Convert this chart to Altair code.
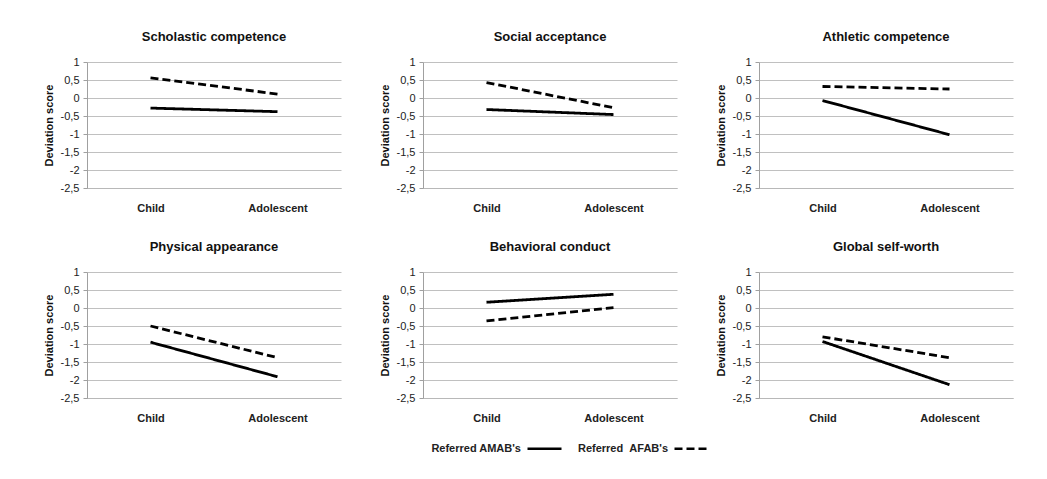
import altair as alt
import pandas as pd

domains = ["Scholastic competence", "Social acceptance", "Athletic competence",
           "Physical appearance", "Behavioral conduct", "Global self-worth"]
ages = ["Child", "Adolescent"]
groups = ["Referred AMAB's", "Referred\u00a0\u00a0AFAB's"]

amab_child = [-0.28, -0.32, -0.07, -0.95, 0.16, -0.93]
amab_adol = [-0.38, -0.46, -1.02, -1.91, 0.38, -2.13]
afab_child = [0.56, 0.43, 0.32, -0.50, -0.36, -0.80]
afab_adol = [0.11, -0.27, 0.25, -1.38, 0.01, -1.38]

y_ticks = [1, 0.5, 0, -0.5, -1, -1.5, -2, -2.5]

rows = []
for i, d in enumerate(domains):
    rows.append({"domain": d, "age": ages[0], "group": groups[0], "score": amab_child[i]})
    rows.append({"domain": d, "age": ages[1], "group": groups[0], "score": amab_adol[i]})
    rows.append({"domain": d, "age": ages[0], "group": groups[1], "score": afab_child[i]})
    rows.append({"domain": d, "age": ages[1], "group": groups[1], "score": afab_adol[i]})
df = pd.DataFrame(rows)

FONT = "Liberation Sans"

legend = alt.Legend(title=None, orient="none", legendX=439, legendY=368,
                    direction="horizontal",
                    symbolType="stroke", symbolSize=1156, symbolStrokeWidth=2.5,
                    symbolStrokeColor="black", labelAlign="right",
                    labelOffset={"expr": "-42"}, labelFontSize=11, labelFontWeight="bold",
                    labelFont=FONT, labelColor="#222", columnPadding=10)


def panel(name):
    return alt.Chart(df, title=name).transform_filter(
        alt.datum.domain == name
    ).mark_line(color="black", strokeWidth=2.8).encode(
        x=alt.X("age:N", sort=ages, scale=alt.Scale(type="point", padding=0.5),
                axis=alt.Axis(title=None, labelAngle=0, ticks=False, grid=False,
                              labelFontWeight="bold", labelPadding=14,
                              domainColor="#b8b8b8")),
        y=alt.Y("score:Q", scale=alt.Scale(domain=[-2.5, 1], nice=False, zero=False),
                axis=alt.Axis(title="Deviation score", values=y_ticks,
                              labelExpr="replace(toString(datum.value), '.', ',')",
                              tickSize=4, labelPadding=4, titlePadding=6)),
        strokeDash=alt.StrokeDash("group:N", sort=groups,
                                  scale=alt.Scale(domain=groups, range=[[1, 0], [8, 4]]),
                                  legend=legend),
        detail="group:N",
    ).properties(width=254, height=126)


row1 = alt.hconcat(*[panel(d) for d in domains[:3]], spacing=38)
row2 = alt.hconcat(*[panel(d) for d in domains[3:]], spacing=38)

chart = alt.vconcat(row1, row2, spacing=28).properties(
    padding={"left": 35, "top": 23, "right": 5, "bottom": 5}
).configure_view(stroke=None).configure_axis(
    labelFont=FONT, titleFont=FONT, labelFontSize=11, titleFontSize=11,
    labelColor="#222", titleColor="#111", titleFontWeight="bold",
    gridColor="#c0c0c0", domainColor="#a0a0a0", tickColor="#a0a0a0",
).configure_title(
    font=FONT, fontSize=13, fontWeight="bold", color="#111", offset=12
)

chart.save("out.html", embed_options={"renderer": "svg", "actions": False})
